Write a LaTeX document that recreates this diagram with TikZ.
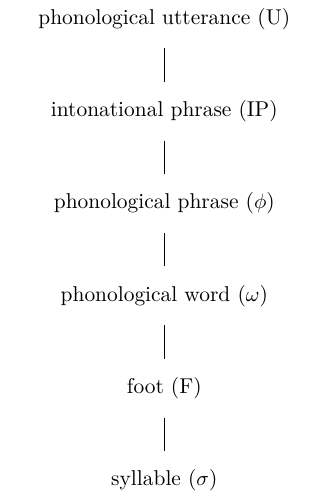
\documentclass[tikz,border=0pt]{standalone}
\usepackage{amsmath}
\usetikzlibrary{positioning}

\begin{document}
\begin{tikzpicture}[node distance=26pt, auto]
        \useasboundingbox (-79pt,9pt) rectangle (79pt,-229pt);
        % prosodic hierarchy, top to bottom
        \tikzset{level/.style={minimum height=18pt, inner sep=0pt, text depth=0.25em, font=\fontsize{10.3pt}{12pt}\selectfont},
                 link/.style={shorten <=5pt, shorten >=5pt}}
        \node[level] (utt) at (0,0) {phonological utterance (U)};
        \node[level, below=of utt] (ip) {intonational phrase (IP)};
        \node[level, below=of ip] (pph) {phonological phrase ($\phi$)};
        \node[level, below=of pph] (pw) {phonological word ($\omega$)};
        \node[level, below=of pw] (ft) {foot (F)};
        \node[level, below=of ft] (syl) {syllable ($\sigma$)};

        % vertical links
        \draw[link] (utt.south) -- (ip.north);
        \draw[link] (ip.south) -- (pph.north);
        \draw[link] (pph.south) -- (pw.north);
        \draw[link] (pw.south) -- (ft.north);
        \draw[link] (ft.south) -- (syl.north);
    \end{tikzpicture}
\end{document}
